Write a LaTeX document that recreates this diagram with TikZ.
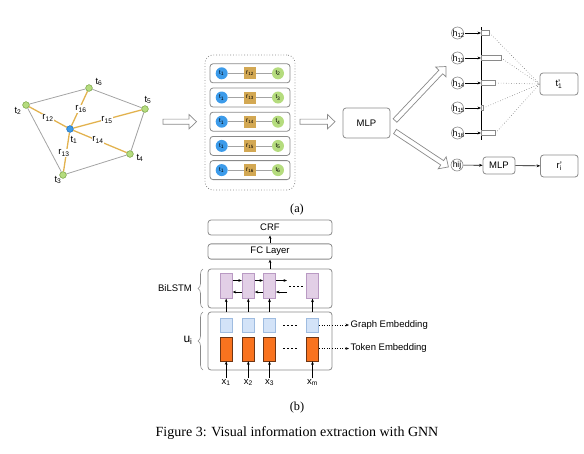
\documentclass[tikz,border=0pt]{standalone}
\usepackage{fontspec}
\setmainfont{Liberation Sans}
\newfontfamily\capfont{Liberation Serif}
\usetikzlibrary{arrows.meta,decorations.pathreplacing,calc}
\definecolor{edgegray}{HTML}{A4A4A4}
\definecolor{relgold}{HTML}{E2B24E}
\definecolor{nodegreen}{HTML}{B5DC7E}
\definecolor{nodegreenb}{HTML}{86AE55}
\definecolor{nodeblue}{HTML}{3C9BEA}
\definecolor{nodeblueb}{HTML}{2C78C0}
\definecolor{boxgold}{HTML}{D3A853}
\definecolor{lstmfill}{HTML}{E2CFE6}
\definecolor{lstmline}{HTML}{B99AC3}
\definecolor{gembfill}{HTML}{D3E3F8}
\definecolor{gembline}{HTML}{9FBCE0}
\definecolor{tembfill}{HTML}{F9731F}
\definecolor{tembline}{HTML}{6E3514}
\definecolor{boxgray}{HTML}{8A8A8A}
\newcommand{\myfs}[1]{\fontsize{#1}{#1}\selectfont}
\newcommand{\harrow}[2]{%
  \draw[harrowline] let \p1=(#1), \p2=(#2), \n1={atan2(\y2-\y1,\x2-\x1)}, \n2={veclen(\x2-\x1,\y2-\y1)} in
   [shift={(\p1)},rotate=\n1] (0,-2.6) -- ({\n2-7.5},-2.6) -- ({\n2-7.5},-7.2) -- (\n2,0) -- ({\n2-7.5},7.2) -- ({\n2-7.5},2.6) -- (0,2.6) -- cycle;}
\tikzset{
  >={Stealth[length=3.5pt,width=2.8pt]},
  gnode/.style={circle, inner sep=0pt, minimum size=6.5pt, fill=nodegreen, draw=nodegreenb, line width=0.5pt},
  bnode/.style={circle, inner sep=0pt, minimum size=6.5pt, fill=nodeblue, draw=nodeblueb, line width=0.5pt},
  glabel/.style={font=\myfs{9.5}, inner sep=0.5pt},
  rlabel/.style={glabel, fill=white},
  grayedge/.style={draw=edgegray, line width=0.8pt},
  reledge/.style={draw=relgold, line width=1.3pt},
  rowbox/.style={draw=boxgray, rounded corners=3pt, line width=0.8pt, minimum width=80pt, minimum height=19pt},
  rowt1/.style={circle, fill=nodeblue, minimum size=12pt, inner sep=0pt, font=\myfs{6}},
  rowtk/.style={circle, fill=nodegreen, minimum size=12pt, inner sep=0pt, font=\myfs{6}},
  rowr/.style={fill=boxgold, minimum width=12.5pt, minimum height=12pt, inner sep=0pt, font=\myfs{6.5}},
  rowline/.style={draw=edgegray, line width=0.8pt},
  harrowline/.style={draw=boxgray, fill=white, line width=0.7pt},
  box/.style={draw=boxgray, rounded corners=3pt, line width=0.8pt, font=\myfs{9.5}},
  hcirc/.style={circle, draw=boxgray, line width=0.6pt, minimum size=12pt, inner sep=0pt, font=\myfs{8.5}},
  hlabel/.style={font=\myfs{9}, inner sep=0pt},
  bar/.style={draw=boxgray, fill=white, line width=0.6pt, minimum height=4.5pt, inner sep=0pt},
  thinarrow/.style={->, line width=0.6pt},
  cell/.style={minimum width=12.3pt, inner sep=0pt, line width=0.6pt},
  brace/.style={decorate, decoration={brace, amplitude=5pt}, draw=boxgray, line width=0.6pt},
  dashrow/.style={line width=0.8pt, dash pattern=on 2pt off 2pt},
}
\begin{document}
\begin{tikzpicture}[x=1pt,y=-1pt]
\useasboundingbox (0,0) rectangle (584,453);
% ---------------- (a) graph ----------------
\node[bnode] (g1) at (70,129) {};
\node[gnode] (g2) at (26,105) {};
\node[gnode] (g3) at (63,175) {};
\node[gnode] (g4) at (130,154) {};
\node[gnode] (g5) at (145,109) {};
\node[gnode] (g6) at (89,88) {};
\draw[grayedge] (g2) -- (g6) -- (g5) -- (g4) -- (g3) -- (g2);
\foreach \k in {2,...,6} {\draw[reledge] (g1) -- (g\k);}
\node[bnode] at (g1) {};
\foreach \k in {2,...,6} {\node[gnode] at (g\k) {};}
\node[glabel] (lt1) at (74,140) {t\textsubscript{1}};
\node[glabel] (lt2) at (18,111) {t\textsubscript{2}};
\node[glabel] (lt3) at (58,180) {t\textsubscript{3}};
\node[glabel] (lt4) at (140,158) {t\textsubscript{4}};
\node[glabel] (lt5) at (148,100) {t\textsubscript{5}};
\node[glabel] (lt6) at (99,82) {t\textsubscript{6}};
\node[rlabel] (lr12) at (48,118) {r\textsubscript{12}};
\node[rlabel] (lr13) at (64,153) {r\textsubscript{13}};
\node[rlabel] (lr14) at (98,140) {r\textsubscript{14}};
\node[rlabel] (lr15) at (107,120) {r\textsubscript{15}};
\node[rlabel] (lr16) at (81,109) {r\textsubscript{16}};
% hollow arrow 1
\coordinate (ha1s) at (163,121.7);
\coordinate (ha1e) at (196.5,121.7);
\harrow{ha1s}{ha1e}
% ---------------- (a) rows ----------------
\node[draw=boxgray, dotted, line width=0.8pt, rounded corners=8pt, minimum width=90pt, minimum height=135pt] (rows) at (250,122.5) {};
\foreach \k [count=\i from 0] in {2,3,4,5,6} {
  \pgfmathsetmacro\yy{73.3+24.2*\i}
  \node[rowbox] (row\k) at (250,\yy) {};
  \node[rowt1] (ra\k) at (221.7,\yy) {t\textsubscript{1}};
  \node[rowr] (rr\k) at (250,\yy) {r\textsubscript{1\k}};
  \node[rowtk] (rb\k) at (278,\yy) {t\textsubscript{\k}};
  \draw[rowline] (ra\k) -- (rr\k) -- (rb\k);
}
\coordinate (ha2s) at (300,121.7);
\coordinate (ha2e) at (335,121.7);
\harrow{ha2s}{ha2e}
% ---------------- (a) MLP and heads ----------------
\node[box, minimum width=47pt, minimum height=30pt] (mlp) at (366.5,123) {MLP};
\coordinate (hu1) at (395,120.5);
\coordinate (hu2) at (446,66.5);
\coordinate (hd1) at (395,131.5);
\coordinate (hd2) at (448.5,167);
\harrow{hu1}{hu2}
\harrow{hd1}{hd2}
\node[box, minimum width=38pt, minimum height=22pt] (t1p) at (559,84) {t\rlap{'}\textsubscript{1}};
\coordinate (vtop) at (481,27);
\coordinate (vbot) at (481,140);
\draw[line width=0.7pt] (vtop) -- (vbot);
\foreach \k/\yy/\bl in {12/33/8pt, 13/58/19.5pt, 14/83/14pt, 15/108/1.8pt, 16/133/14pt} {
  \node[hcirc] (h\k) at (457.5,\yy) {};
  \node[hlabel, anchor=base west] (hl\k) at (452.3,\yy+3.2) {h\textsubscript{\k}};
  \draw[thinarrow] (hl\k.east |- h\k.center) -- (h\k.center -| vtop);
  \node[bar, minimum width=\bl, anchor=west] (bar\k) at (481,\yy) {};
  \draw[dotted, draw=gray, line width=0.6pt] (bar\k.east) -- (t1p.west);
}
\node[hcirc] (hij) at (457,165) {hij};
\node[box, minimum width=32pt, minimum height=17pt] (mlp2) at (499,165.5) {MLP};
\node[box, minimum width=37.5pt, minimum height=22pt] (rpi) at (559.3,166) {r\rlap{'}\textsubscript{i}};
\draw[thinarrow] (hij) -- (mlp2);
\draw[thinarrow] (mlp2) -- (rpi);
\node[font=\capfont\myfs{12.3}] (capa) at (297,210) {(a)};
% ---------------- (b) ----------------
\node[box, minimum width=124pt, minimum height=15pt] (crf) at (270,227.5) {CRF};
\node[box, minimum width=124pt, minimum height=15pt] (fc) at (270,251.5) {FC Layer};
\node[box, minimum width=124pt, minimum height=39pt] (bil) at (270,288.5) {};
\node[box, minimum width=124pt, minimum height=58pt] (ubox) at (270,341) {};
\draw[thinarrow] (fc.north) -- (crf.south);
\draw[thinarrow] (bil.north -| fc) -- (fc.south);
\foreach \k/\xx/\lab in {1/226.2/x\textsubscript{1}, 2/248.3/x\textsubscript{2}, 3/269.5/x\textsubscript{3}, 4/312.5/x\textsubscript{m}} {
  \node[cell, minimum height=25pt, fill=lstmfill, draw=lstmline] (ls\k) at (\xx,285.8) {};
  \node[cell, minimum height=14pt, fill=gembfill, draw=gembline] (ge\k) at (\xx,325) {};
  \node[cell, minimum height=24pt, fill=tembfill, draw=tembline] (te\k) at (\xx,349) {};
  \draw[thinarrow] (ubox.north -| ls\k) -- (ls\k.south);
  \node[font=\myfs{9.5}, inner sep=1pt] (xl\k) at (\xx,382.5) {\lab};
  \draw[thinarrow] (xl\k.north) -- (te\k.south);
}
\coordinate (fwd) at (0,280.5);
\coordinate (bwd) at (0,292);
\coordinate (fend) at (287,280.5);
\coordinate (bstart) at (287,292);
\draw[thinarrow] (ls1.east |- fwd) -- (ls2.west |- fwd);
\draw[thinarrow] (ls2.east |- fwd) -- (ls3.west |- fwd);
\draw[thinarrow] (ls3.east |- fwd) -- (fend);
\draw[thinarrow] (ls2.west |- bwd) -- (ls1.east |- bwd);
\draw[thinarrow] (ls3.west |- bwd) -- (ls2.east |- bwd);
\draw[thinarrow] (bstart) -- (ls3.east |- bwd);
\coordinate (ld1) at (289,286);
\coordinate (ld2) at (303,286);
\draw[dashrow] (ld1) -- (ld2);
\coordinate (gd1) at (283,325);
\coordinate (gd2) at (298,325);
\coordinate (td1) at (283,348.5);
\coordinate (td2) at (298,348.5);
\draw[dashrow] (gd1) -- (gd2);
\draw[dashrow] (td1) -- (td2);
\node[font=\myfs{9.5}, anchor=west, inner sep=1.5pt] (gel) at (349,325) {Graph Embedding};
\node[font=\myfs{9.5}, anchor=west, inner sep=1.5pt] (tel) at (349,348.5) {Token Embedding};
\draw[thinarrow, dotted] (ge4.east) -- (gel.west);
\draw[thinarrow, dotted] (te4.east |- tel) -- (tel.west);
\coordinate (b1a) at (203,308);
\coordinate (b1b) at (203,269);
\coordinate (b2a) at (203,370);
\coordinate (b2b) at (203,312);
\draw[brace] (b1a) -- (b1b);
\draw[brace] (b2a) -- (b2b);
\node[font=\myfs{9.5}] (bl) at (175,288) {BiLSTM};
\node[font=\myfs{12}] (ul) at (188,340) {u\textsubscript{i}};
\node[font=\capfont\myfs{12.3}] (capb) at (297,408) {(b)};
\node[font=\capfont\myfs{14}] (cap) at (297,433) {Figure 3: Visual information extraction with GNN};
\end{tikzpicture}
\end{document}
